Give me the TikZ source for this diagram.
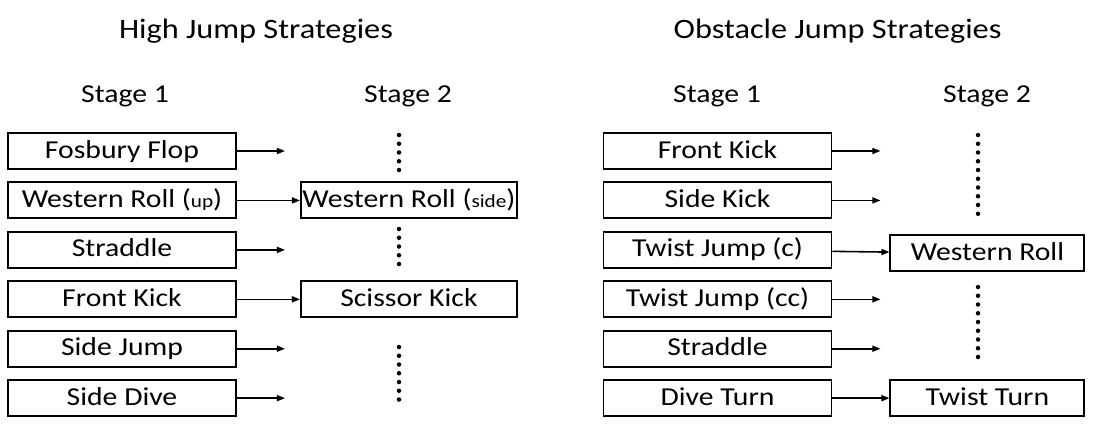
\documentclass[tikz,border=0pt]{standalone}
\usepackage{fontspec}
\setmainfont{Carlito}[FakeStretch=1.15]
\usepackage{tikz}
\usetikzlibrary{arrows.meta, positioning}

\newcommand{\smalltag}[1]{{\fontsize{10.5}{12}\selectfont #1}}

\begin{document}
\begin{tikzpicture}[
      box/.style={draw, line width=1.1pt, minimum width=4.56cm, minimum height=0.72cm, inner sep=0.5pt,
        text height=11pt, text depth=3pt, font=\fontsize{14.7}{17}\selectfont},
      head/.style={anchor=base, font=\fontsize{14.7}{17}\selectfont},
      title/.style={anchor=base, font=\fontsize{16}{19}\selectfont},
      arrow/.style={-{Triangle[length=1.6mm, width=1.2mm]}, line width=0.9pt},
      vdots/.style={line width=0.09cm, line cap=round, dash pattern=on 0pt off 0.175cm}
    ]
      \useasboundingbox (0,0) rectangle (21.88,-8.8);

      % headings
      \node[title] (hjtitle) at (5.12,-0.76) {High Jump Strategies};
      \node[title] (ojtitle) at (16.75,-0.76) {Obstacle Jump Strategies};
      \node[head] (hjone) at (2.5,-2.04) {Stage 1};
      \node[head] (hjtwo) at (8.16,-2.04) {Stage 2};
      \node[head] (ojone) at (14.34,-2.04) {Stage 1};
      \node[head] (ojtwo) at (19.74,-2.04) {Stage 2};

      % high jump, stage 1
      \node[box] (fb) at (2.44,-3.02) {Fosbury Flop};
      \node[box, below=0.23cm of fb] (wru) {Western Roll (\smalltag{up})};
      \node[box, below=0.23cm of wru] (strl) {Straddle};
      \node[box, below=0.23cm of strl] (fkl) {Front Kick};
      \node[box, below=0.23cm of fkl] (sj) {Side Jump};
      \node[box, below=0.23cm of sj] (sd) {Side Dive};

      % high jump, stage 2
      \node[box, minimum width=4.32cm, right=1.26cm of wru] (wrs) {Western Roll (\smalltag{side})};
      \node[box, minimum width=4.32cm, right=1.26cm of fkl] (sk) {Scissor Kick};

      \coordinate[right=0.96cm of fb] (fbtip);
      \coordinate[right=0.96cm of strl] (strltip);
      \coordinate[right=0.96cm of sj] (sjtip);
      \coordinate[right=0.96cm of sd] (sdtip);
      \draw[arrow] (fb) -- (fbtip);
      \draw[arrow] (wru) -- (wrs);
      \draw[arrow] (strl) -- (strltip);
      \draw[arrow] (fkl) -- (sk);
      \draw[arrow] (sj) -- (sjtip);
      \draw[arrow] (sd) -- (sdtip);

      \coordinate (hdA) at (7.98,-2.70);
      \coordinate (hdB) at (7.98,-3.44);
      \coordinate (hdC) at (7.98,-4.58);
      \coordinate (hdD) at (7.98,-5.32);
      \coordinate (hdE) at (7.98,-6.94);
      \coordinate (hdF) at (7.98,-8.10);
      \draw[vdots] (hdA) -- (hdB);
      \draw[vdots] (hdC) -- (hdD);
      \draw[vdots] (hdE) -- (hdF);

      % obstacle jump, stage 1
      \node[box] (fkr) at (14.35,-3.02) {Front Kick};
      \node[box, below=0.23cm of fkr] (skr) {Side Kick};
      \node[box, below=0.23cm of skr] (tjc) {Twist Jump (c)};
      \node[box, below=0.23cm of tjc] (tjcc) {Twist Jump (cc)};
      \node[box, below=0.23cm of tjcc] (strr) {Straddle};
      \node[box, below=0.23cm of strr] (dt) {Dive Turn};

      % obstacle jump, stage 2
      \node[box, minimum width=3.88cm, right=1.14cm of tjc, yshift=-0.07cm] (wrr) {Western Roll};
      \node[box, minimum width=3.88cm, right=1.14cm of dt] (tt) {Twist Turn};

      \coordinate[right=0.96cm of fkr] (fkrtip);
      \coordinate[right=0.96cm of skr] (skrtip);
      \coordinate[right=0.96cm of tjcc] (tjcctip);
      \coordinate[right=0.96cm of strr] (strrtip);
      \draw[arrow] (fkr) -- (fkrtip);
      \draw[arrow] (skr) -- (skrtip);
      \draw[arrow] (tjc) -- (wrr);
      \draw[arrow] (tjcc) -- (tjcctip);
      \draw[arrow] (strr) -- (strrtip);
      \draw[arrow] (dt) -- (tt);

      \coordinate (odA) at (19.56,-2.70);
      \coordinate (odB) at (19.56,-4.28);
      \coordinate (odC) at (19.56,-5.74);
      \coordinate (odD) at (19.56,-7.22);
      \draw[vdots] (odA) -- (odB);
      \draw[vdots] (odC) -- (odD);
\end{tikzpicture}
\end{document}
